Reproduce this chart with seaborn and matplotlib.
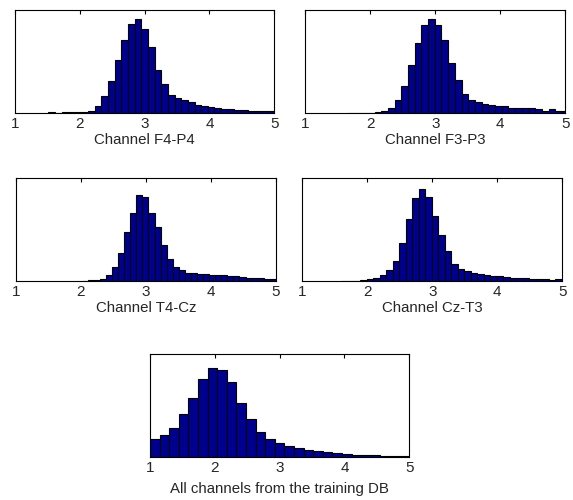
import numpy as np
import pandas as pd
import matplotlib
matplotlib.use('Agg')
import matplotlib.pyplot as plt
import seaborn as sns

# histogram counts (arbitrary units), one array per channel
f4p4_start, f4p4_width = 1.513, 4 / 39
f4p4_counts = [2, 1, 1.5, 1.5, 1.5, 3, 6, 21, 50, 95, 158, 220, 266, 283, 253, 198, 128,
               88, 55, 45, 40, 33, 25, 20, 17, 16, 13, 13, 10, 10, 6, 6, 6, 6]

f3p3_start, f3p3_width = 1.653, 0.103
f3p3_counts = [1, 1, 1, 1, 2, 5, 16, 40, 80, 143, 210, 263, 283, 265, 218, 151, 98, 58,
               40, 33, 28, 25, 22, 22, 15, 15, 15, 15, 11, 7, 11, 7, 7]

t4cz_start, t4cz_width = 2.012, 0.0933
t4cz_counts = [1, 2, 2, 7, 17, 42, 85, 147, 204, 257, 252, 204, 162, 107, 65, 42, 32,
               25, 25, 20, 22, 18, 18, 18, 15, 15, 12, 9, 9, 9, 5, 5]

czt3_start, czt3_width = 1.592, 0.1
czt3_counts = [1, 1, 1, 2, 6, 10, 17, 32, 60, 115, 185, 249, 274, 250, 194, 137, 90, 52,
               35, 30, 25, 22, 18, 16, 16, 12, 10, 10, 10, 6, 6, 6, 4, 6]

all_start, all_width = 1.0, 4 / 27
all_counts = [55, 67, 89, 130, 180, 235, 269, 265, 227, 165, 115, 75, 54, 44, 34, 29,
              22, 19, 15, 14, 10, 7, 7, 6, 4, 4, 4]

titles = ['Channel F4-P4', 'Channel F3-P3', 'Channel T4-Cz', 'Channel Cz-T3',
          'All channels from the training DB']
xticks = [1, 2, 3, 4, 5]

sns.set_style('white')
plt.rcParams['font.family'] = ['Liberation Sans', 'DejaVu Sans']

fig = plt.figure(figsize=(5.73, 5.0), dpi=100)

panels = [
    (f4p4_start, f4p4_width, f4p4_counts, [0.0262, 0.774, 0.4525, 0.207], 310, 1),
    (f3p3_start, f3p3_width, f3p3_counts, [0.5328, 0.774, 0.4538, 0.207], 310, 1),
    (t4cz_start, t4cz_width, t4cz_counts, [0.0279, 0.438, 0.4538, 0.2054], 307, 1),
    (czt3_start, czt3_width, czt3_counts, [0.5276, 0.438, 0.4538, 0.2054], 307, 1),
    (all_start, all_width, all_counts, [0.2618, 0.0854, 0.4525, 0.2066], 312, 5),
]

for (start, width, counts, rect, ytop, pad), title in zip(panels, titles):
    ax = fig.add_axes(rect)
    edges = start + width * np.arange(len(counts) + 1)
    df = pd.DataFrame({'center': (edges[:-1] + edges[1:]) / 2,
                       'count': np.array(counts, dtype=float)})
    sns.histplot(data=df, x='center', weights='count', bins=list(edges),
                 color='#00008f', edgecolor='black', linewidth=0.8, alpha=1, ax=ax)
    ax.set_xlim(1, 5)
    ax.set_ylim(0, ytop)
    ax.set_xticks(xticks)
    ax.set_yticks([])
    ax.set_ylabel('')
    ax.set_xlabel(title, fontsize=10.8, labelpad=pad)
    ax.tick_params(axis='x', direction='in', top=True, length=3, pad=3,
                   labelsize=11, color='black')
    for s in ax.spines.values():
        s.set_visible(True)
        s.set_color('black')
        s.set_linewidth(0.8)

fig.savefig('out.png', dpi=100)
